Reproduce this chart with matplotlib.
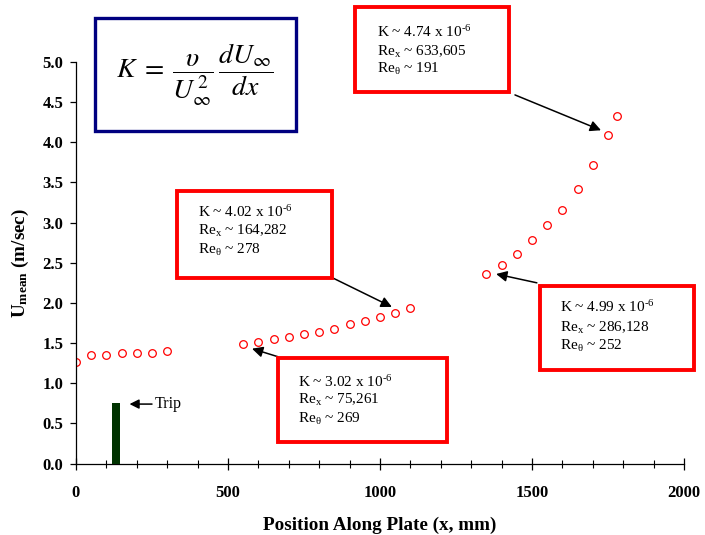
import matplotlib
matplotlib.use("Agg")
import matplotlib.pyplot as plt
from matplotlib.patches import Rectangle
from matplotlib.ticker import MultipleLocator

# ---- data ----
x_run1 = [0, 50, 100, 150, 200, 250, 300]
u_run1 = [1.26, 1.35, 1.35, 1.37, 1.37, 1.37, 1.40]
x_run2 = [550, 600, 650, 700, 750, 800, 850, 900, 950, 1000, 1050, 1100]
u_run2 = [1.49, 1.51, 1.55, 1.57, 1.61, 1.64, 1.68, 1.74, 1.78, 1.82, 1.88, 1.94]
x_run3 = [1350, 1400, 1450, 1500, 1550, 1600, 1650, 1700, 1750, 1780]
u_run3 = [2.36, 2.47, 2.61, 2.78, 2.97, 3.16, 3.42, 3.72, 4.09, 4.33]
trip_x = 131
trip_h = 0.75
trip_w = 28

box_texts = [
    ("4.74", "633,605", "191"),
    ("4.02", "164,282", "278"),
    ("3.02", "75,261", "269"),
    ("4.99", "286,128", "252"),
]

W, H = 705, 535
plt.rcParams['font.family'] = ['Liberation Serif', 'DejaVu Serif']
plt.rcParams['mathtext.fontset'] = 'custom'
plt.rcParams['mathtext.rm'] = 'Liberation Serif'
plt.rcParams['mathtext.it'] = 'Liberation Serif:italic'
plt.rcParams['mathtext.bf'] = 'Liberation Serif:bold'

fig = plt.figure(figsize=(W / 100, H / 100), dpi=100)
ax = fig.add_axes([76 / W, 1 - 463.5 / H, (684 - 76) / W, (463.5 - 62) / H])

ax.plot(x_run1, u_run1, 'o', mfc='none', mec='#ff0000', ms=5.5, mew=0.9)
ax.plot(x_run2, u_run2, 'o', mfc='none', mec='#ff0000', ms=5.5, mew=0.9)
ax.plot(x_run3, u_run3, 'o', mfc='none', mec='#ff0000', ms=5.5, mew=0.9)
ax.bar([trip_x], [trip_h], width=trip_w, color='#003300', zorder=3, clip_on=False)

ax.set_xlim(0, 2000)
ax.set_ylim(0, 5)
ax.xaxis.set_major_locator(MultipleLocator(500))
ax.xaxis.set_minor_locator(MultipleLocator(100))
ax.yaxis.set_major_locator(MultipleLocator(0.5))
ax.yaxis.set_major_formatter(matplotlib.ticker.FormatStrFormatter('%.1f'))
for s in ['top', 'right']:
    ax.spines[s].set_visible(False)
for s in ['left', 'bottom']:
    ax.spines[s].set_linewidth(0.9)
ax.tick_params(axis='x', which='major', direction='inout', length=9, width=0.9, pad=11, labelsize=12)
ax.tick_params(axis='x', which='minor', direction='inout', length=6, width=0.8)
ax.tick_params(axis='y', which='major', direction='out', length=4, width=0.9, pad=5, labelsize=12)
for lab in ax.get_xticklabels() + ax.get_yticklabels():
    lab.set_fontweight('bold')

ax.set_xlabel('Position Along Plate (x, mm)', fontsize=13.8, fontweight='bold', labelpad=11)
ax.set_ylabel(r'U$_{\mathbf{mean}}$ (m/sec)', fontsize=13.8, fontweight='bold', labelpad=8)


def fx(px):
    return px / W


def fy(py):
    return 1 - py / H


def add_box(x0, y0, x1, y1, color, lw):
    r = Rectangle((fx(x0), fy(y1)), fx(x1) - fx(x0), fy(y0) - fy(y1), transform=fig.transFigure,
                  fill=True, facecolor='white', edgecolor=color, linewidth=lw, zorder=5)
    fig.add_artist(r)


# Formula box
add_box(95, 18, 296, 131, '#000080', 2.4)
fig.text(fx(195), fy(75), r'$K\;=\;\dfrac{\upsilon}{U_{\infty}^{\,2}}\,\dfrac{dU_{\infty}}{dx}$',
         fontsize=20, ha='center', va='center', math_fontfamily='stix', zorder=6)

# Annotation boxes (pixel boxes, text left, line centers)
boxes = [
    ((355, 7, 509, 92), 377, (31.7, 50.7, 68.3)),
    ((177, 191, 332, 278), 198, (211.7, 230, 249)),
    ((278, 358, 447, 442), 298, (381.7, 399.3, 418.3)),
    ((540, 286, 694, 370), 560, (306.7, 326.7, 345)),
]
for (bx, tx, ly), (k, rex, ret) in zip(boxes, box_texts):
    add_box(*bx, '#ff0000', 2.8)
    lines = [r'K ~ ' + k + r' x 10$^{\mathregular{‐6}}$',
             r'Re$_{\mathregular{x}}$ ~ ' + rex,
             r'Re$_{\mathregular{θ}}$ ~ ' + ret]
    for line, yy in zip(lines, ly):
        fig.text(fx(tx), fy(yy + 5), line, fontsize=11, ha='left', va='baseline', zorder=7)

# Arrows (head at data, tail at data near box corner)
arrowprops = dict(arrowstyle='-|>', color='black', lw=1.1, mutation_scale=16, shrinkA=0, shrinkB=0)
arrows = [
    ((1727, 4.15), (1444, 4.59)),
    ((1039, 1.95), (845, 2.31)),
    ((579, 1.43), (664, 1.33)),
    ((1382, 2.36), (1516, 2.25)),
]
for head, tail in arrows:
    ax.annotate('', xy=head, xytext=tail, arrowprops=arrowprops, annotation_clip=False, zorder=8)

# Trip label
ax.annotate('', xy=(176, 0.74), xytext=(250, 0.74), arrowprops=dict(arrowstyle='-|>', color='black', lw=1.1,
                                                                     mutation_scale=14, shrinkA=0, shrinkB=0))
ax.text(258, 0.74, 'Trip', fontsize=11.5, ha='left', va='center')

fig.savefig('out.png', dpi=100)
